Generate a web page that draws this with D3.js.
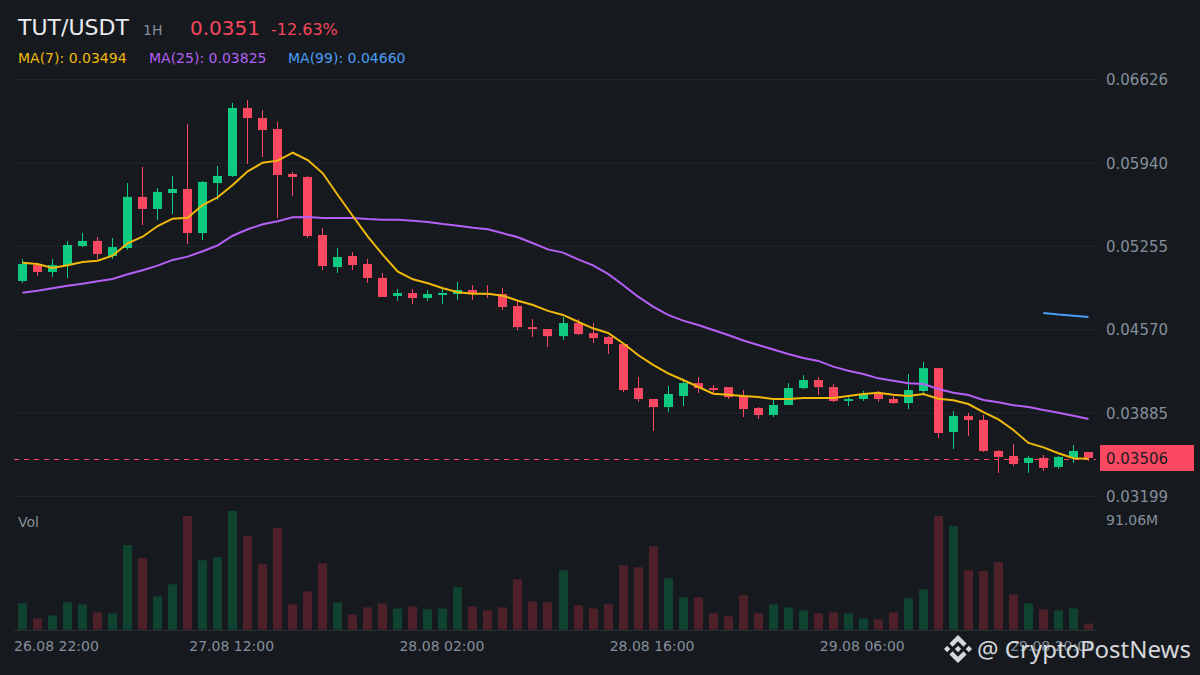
<!DOCTYPE html>
<html>
<head>
<meta charset="utf-8">
<script src="https://cdn.jsdelivr.net/npm/d3@7/dist/d3.min.js"></script>
<style>
html,body{margin:0;padding:0;background:#161a1e;}
svg{display:block;}
text{font-family:"DejaVu Sans",sans-serif;}
</style>
</head>
<body>
<svg id="chart" width="1200" height="675"></svg>
<script>
const opens = [0.04966,0.05097,0.05040,0.05097,0.05254,0.05295,0.05171,0.05237,0.05657,0.05558,0.05689,0.05722,0.05360,0.05771,0.05829,0.06388,0.06305,0.06215,0.05845,0.05821,0.05344,0.05081,0.05171,0.05106,0.04991,0.04843,0.04867,0.04826,0.04851,0.04859,0.04892,0.04867,0.04859,0.04760,0.04587,0.04571,0.04513,0.04620,0.04538,0.04505,0.04448,0.04086,0.03996,0.03930,0.04021,0.04127,0.04086,0.04094,0.04021,0.03922,0.03865,0.03947,0.04086,0.04152,0.04094,0.03980,0.03996,0.04045,0.03996,0.03963,0.04062,0.04250,0.03725,0.03857,0.03824,0.03569,0.03528,0.03471,0.03512,0.03438,0.03512,0.03561];
const highs = [0.05147,0.05106,0.05147,0.05295,0.05360,0.05328,0.05319,0.05771,0.05903,0.05730,0.05829,0.06256,0.05788,0.05911,0.06429,0.06453,0.06371,0.06272,0.05862,0.05829,0.05401,0.05237,0.05204,0.05147,0.05032,0.04900,0.04900,0.04892,0.04900,0.04958,0.04933,0.04933,0.04908,0.04802,0.04653,0.04571,0.04670,0.04653,0.04620,0.04513,0.04448,0.04176,0.03996,0.04102,0.04152,0.04176,0.04111,0.04078,0.04070,0.03930,0.03996,0.04127,0.04193,0.04176,0.04119,0.04012,0.04062,0.04062,0.04021,0.04201,0.04300,0.04250,0.03897,0.03881,0.03865,0.03577,0.03626,0.03528,0.03536,0.03528,0.03618,0.03561];
const lows = [0.04950,0.05007,0.04999,0.04991,0.05245,0.05147,0.05147,0.05221,0.05426,0.05467,0.05517,0.05270,0.05303,0.05632,0.05821,0.05928,0.05985,0.05484,0.05665,0.05319,0.05056,0.05032,0.05056,0.04950,0.04835,0.04802,0.04777,0.04802,0.04777,0.04810,0.04810,0.04826,0.04728,0.04562,0.04505,0.04423,0.04481,0.04522,0.04456,0.04366,0.04053,0.03971,0.03733,0.03889,0.03938,0.04045,0.04037,0.03996,0.03848,0.03832,0.03848,0.03947,0.04078,0.04029,0.03971,0.03938,0.03980,0.03971,0.03955,0.03914,0.04029,0.03676,0.03585,0.03692,0.03561,0.03389,0.03446,0.03389,0.03405,0.03422,0.03471,0.03487];
const closes = [0.05106,0.05040,0.05097,0.05262,0.05295,0.05188,0.05245,0.05657,0.05558,0.05698,0.05722,0.05360,0.05780,0.05829,0.06388,0.06305,0.06207,0.05837,0.05821,0.05336,0.05089,0.05163,0.05097,0.04991,0.04835,0.04867,0.04826,0.04859,0.04867,0.04892,0.04859,0.04851,0.04752,0.04587,0.04571,0.04513,0.04620,0.04530,0.04497,0.04448,0.04070,0.03996,0.03930,0.04037,0.04127,0.04086,0.04070,0.04012,0.03914,0.03865,0.03947,0.04086,0.04152,0.04094,0.03980,0.03996,0.04037,0.03996,0.03963,0.04070,0.04250,0.03717,0.03857,0.03824,0.03569,0.03520,0.03462,0.03512,0.03430,0.03520,0.03569,0.03512];
const volumes = [21.7,9.2,11.7,22.6,20.9,14.2,13.4,70.2,59.3,27.6,37.6,94.4,57.6,60.2,98.6,77.7,54.3,84.4,20.9,31.7,55.1,22.6,12.5,18.4,21.7,17.5,19.2,16.7,17.5,35.1,19.2,15.9,18.4,41.8,23.4,22.6,49.3,20.1,17.5,20.9,53.5,51.8,69.3,42.6,26.7,26.7,13.4,10.9,28.4,13.4,20.9,18.4,15.9,13.4,14.2,13.4,9.2,8.4,14.2,25.9,33.4,94.4,86.1,49.3,48.5,56.0,29.2,21.7,16.7,15.9,17.5,5.0];
const ma7 = [0.05116,0.05106,0.05073,0.05095,0.05122,0.05133,0.05174,0.05276,0.05330,0.05418,0.05478,0.05486,0.05590,0.05654,0.05755,0.05867,0.05938,0.05955,0.06020,0.05960,0.05851,0.05673,0.05500,0.05330,0.05180,0.05042,0.04980,0.04947,0.04906,0.04873,0.04862,0.04862,0.04845,0.04804,0.04769,0.04720,0.04687,0.04631,0.04577,0.04539,0.04454,0.04358,0.04276,0.04207,0.04152,0.04097,0.04040,0.04032,0.04021,0.04013,0.03996,0.03996,0.04005,0.04005,0.04005,0.04021,0.04037,0.04048,0.04032,0.04021,0.04037,0.03999,0.03985,0.03955,0.03889,0.03829,0.03741,0.03635,0.03599,0.03550,0.03509,0.03506];
const ma25 = [0.04870,0.04886,0.04906,0.04927,0.04944,0.04963,0.04982,0.05021,0.05054,0.05092,0.05139,0.05166,0.05210,0.05259,0.05338,0.05391,0.05432,0.05457,0.05489,0.05492,0.05484,0.05484,0.05484,0.05475,0.05470,0.05470,0.05462,0.05451,0.05434,0.05420,0.05404,0.05391,0.05358,0.05325,0.05276,0.05226,0.05199,0.05144,0.05095,0.05024,0.04933,0.04837,0.04755,0.04687,0.04640,0.04604,0.04563,0.04522,0.04477,0.04440,0.04403,0.04366,0.04333,0.04309,0.04262,0.04229,0.04202,0.04166,0.04147,0.04125,0.04120,0.04079,0.04048,0.04029,0.03988,0.03969,0.03944,0.03931,0.03906,0.03884,0.03859,0.03832];
const ma99Index = [68,69,70,71];
const ma99 = [0.04702,0.04690,0.04681,0.04670];
const priceTicks = [0.06626,0.05940,0.05255,0.04570,0.03885,0.03199];
const timeIndex = [0,14,28,42,56,70];
const timeLabels = ["26.08 22:00","27.08 12:00","28.08 02:00","28.08 16:00","29.08 06:00","29.08 20:00"];
const lastPrice = 0.03506;
const volMax = 91.06;

const UP = "#0ecb81", DOWN = "#fb4861";
const VUP = "#0f4330", VDOWN = "#4e2029";
const GRID = "#23272b", MUTED = "#848e9c";

const svg = d3.select("#chart");
svg.append("rect").attr("width",1200).attr("height",675).attr("fill","#161a1e");

const idx = d3.range(opens.length);
const x = d3.scaleBand().domain(idx).range([15,1096]).paddingInner(0).paddingOuter(0);
const cx = i => x(i) + x.bandwidth()/2;
const left = i => Math.round(cx(i) - 4.5);
const y = d3.scaleLinear().domain([0.03199,0.06626]).range([496,79]);
const yVol = d3.scaleLinear().domain([0,volMax]).range([629.5,520]);

// grid
const gridG = svg.append("g").attr("transform","translate(14,0)")
  .call(d3.axisRight(y).tickValues(priceTicks).tickSize(1082).tickFormat(""));
gridG.select(".domain").remove();
gridG.selectAll("line").attr("stroke",GRID).attr("stroke-width",1);
gridG.selectAll("text").remove();

// price axis labels
const yAxisG = svg.append("g").attr("transform","translate(1106,1)")
  .call(d3.axisRight(y).tickValues(priceTicks).tickSize(0).tickPadding(0).tickFormat(d3.format(".5f")));
yAxisG.select(".domain").remove();
yAxisG.selectAll("text").attr("fill",MUTED).style("font-size","15px").style("font-family",'"DejaVu Sans"');

// last price dash
svg.append("line").attr("x1",14).attr("x2",1096)
  .attr("y1",Math.round(y(lastPrice))+0.5).attr("y2",Math.round(y(lastPrice))+0.5)
  .attr("stroke",DOWN).attr("stroke-width",1).attr("stroke-dasharray","5,5");

// volume
svg.append("g").selectAll("rect").data(idx).join("rect")
  .attr("x",left).attr("width",9)
  .attr("y",i=>yVol(volumes[i])).attr("height",i=>yVol(0)-yVol(volumes[i]))
  .attr("fill",i=>closes[i]>=opens[i]?VUP:VDOWN);
svg.append("line").attr("x1",14).attr("x2",1096).attr("y1",630.5).attr("y2",630.5).attr("stroke","#2b2f36");

// candles
const candles = svg.append("g");
candles.selectAll("rect.wick").data(idx).join("rect").attr("class","wick")
  .attr("x",i=>left(i)+4).attr("width",1)
  .attr("y",i=>y(highs[i])).attr("height",i=>y(lows[i])-y(highs[i]))
  .attr("fill",i=>closes[i]>=opens[i]?UP:DOWN);
candles.selectAll("rect.body").data(idx).join("rect").attr("class","body")
  .attr("x",left).attr("width",9)
  .attr("y",i=>y(Math.max(opens[i],closes[i])))
  .attr("height",i=>Math.max(1,Math.abs(y(opens[i])-y(closes[i]))))
  .attr("fill",i=>closes[i]>=opens[i]?UP:DOWN);

// moving averages
const lineFor = (xs) => d3.line().x((d,k)=>cx(xs[k])).y(d=>y(d));
svg.append("path").datum(ma25).attr("d",lineFor(idx)).attr("fill","none").attr("stroke","#b45ff5").attr("stroke-width",2);
svg.append("path").datum(ma7).attr("d",lineFor(idx)).attr("fill","none").attr("stroke","#f0b90b").attr("stroke-width",2);
svg.append("path").datum(ma99).attr("d",lineFor(ma99Index)).attr("fill","none").attr("stroke","#4a9df5").attr("stroke-width",2);

// time axis
const tickX = d3.scaleOrdinal().domain(timeIndex).range(timeLabels);
const xAxisG = svg.append("g").attr("transform","translate(0,647)")
  .call(d3.axisBottom(x).tickValues(timeIndex).tickSize(0).tickPadding(0).tickFormat(d=>tickX(d)));
xAxisG.select(".domain").remove();
xAxisG.selectAll("text").attr("fill",MUTED).attr("dy",0).attr("y",0)
  .style("font-size","14px").style("font-family",'"DejaVu Sans"').attr("dominant-baseline","middle");
xAxisG.selectAll("text").attr("text-anchor",d=>d===0?"start":(d===70?"end":"middle"))
  .attr("x",d=>d===0?14-cx(0):(d===70?1095-cx(70):-1));

// current price tag
svg.append("rect").attr("x",1100).attr("y",445).attr("width",94).attr("height",26).attr("fill",DOWN);
svg.append("text").attr("x",1106).attr("y",y(lastPrice)+1).attr("dominant-baseline","middle")
  .attr("fill","#1b1c22").style("font-size","15px").text(d3.format(".5f")(lastPrice));

// header
const T = (px,py,s,size,fill) => svg.append("text").attr("x",px).attr("y",py).attr("fill",fill).style("font-size",size+"px").text(s);
T(18,35,"TUT/USDT",22,"#eaecef");
T(143,35,"1H",14,MUTED);
T(190,35,"0.0351",20,"#f6465d");
T(271,35,"-12.63%",16,"#f6465d");
T(18,63,"MA(7): 0.03494",14,"#f0b90b");
T(149,63,"MA(25): 0.03825",14,"#b45ff5");
T(288,63,"MA(99): 0.04660",14,"#4a9df5");
T(18,527,"Vol",14,MUTED);
T(1106,525,"91.06M",14,MUTED);

// watermark
const logo = svg.append("g").attr("transform","translate(944,635) scale(0.2212)").attr("fill","#d4d7db");
logo.append("path").attr("d","M38.73 53.2L63.31 28.62l24.6 24.6 14.3-14.31L63.31 0 24.42 38.9zM0 63.31l14.3-14.31 14.31 14.31-14.31 14.3zM38.73 73.41l24.58 24.59 24.6-24.6 14.31 14.29-38.9 38.91-38.9-38.88-.02-.02zM98 63.31l14.3-14.31 14.31 14.3-14.31 14.32zM77.83 63.3L63.31 48.78 52.58 59.51l-1.24 1.23-2.54 2.54 14.51 14.53 14.52-14.51z");
svg.append("text").attr("x",977).attr("y",658).attr("fill","#d4d7db")
  .style("font-family",'"Noto Sans"').style("font-size","24px").text("@ CryptoPostNews");
</script>
</body>
</html>
